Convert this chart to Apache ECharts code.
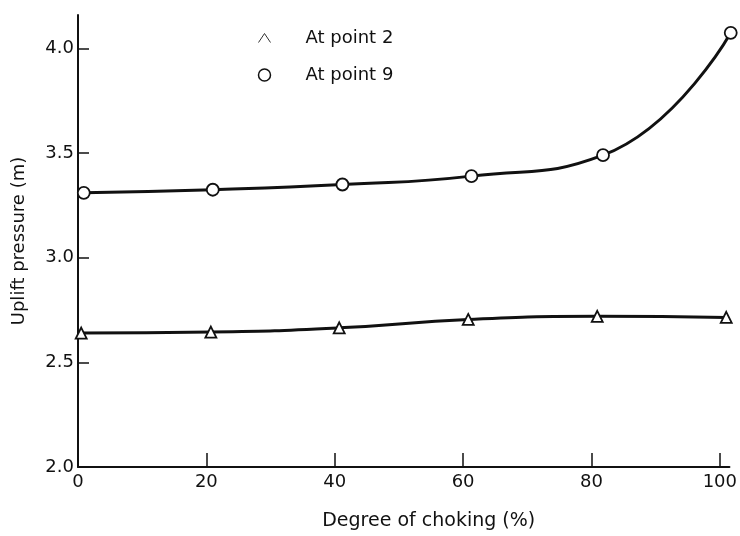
<!DOCTYPE html>
<html>
<head>
<meta charset="utf-8">
<script src="https://cdn.jsdelivr.net/npm/echarts@6/dist/echarts.min.js"></script>
<style>html,body{margin:0;padding:0;background:#fff;}#chart{width:740px;height:536px;}</style>
</head>
<body>
<div id="chart"></div>
<script>
const xTicks = [0, 20, 40, 60, 80, 100];
const yTicks = [2.0, 2.5, 3.0, 3.5, 4.0];
const point2X = [0.5, 20.7, 40.7, 60.8, 80.9, 101];
const point2Y = [2.64, 2.645, 2.665, 2.705, 2.72, 2.715];
const point9X = [0.9, 21, 41.2, 61.3, 81.8, 101.7];
const point9Y = [3.31, 3.325, 3.35, 3.39, 3.49, 4.075];
const seriesNames = ['At point 2', 'At point 9'];

const font = '"DejaVu Sans", sans-serif';
const pairs = (xs, ys) => xs.map((x, i) => [x, ys[i]]);

const chart = echarts.init(document.getElementById('chart'));
chart.setOption({
  backgroundColor: '#ffffff',
  animation: false,
  grid: { left: 78, right: 4, top: 15, bottom: 69, containLabel: false },
  legend: {
    left: 251, top: 24, orient: 'vertical', itemGap: 19,
    itemWidth: 12, itemHeight: 12,
    textStyle: { fontFamily: font, fontSize: 18, color: '#111', padding: [0, 0, 0, 30] },
    data: [
      { name: seriesNames[0], icon: 'path://M0,6 L4,0 L8,6', itemStyle: { color: 'none', borderColor: '#333', borderWidth: 1 } },
      { name: seriesNames[1], icon: 'circle', itemStyle: { color: '#fff', borderColor: '#111', borderWidth: 1.5 } }
    ]
  },
  xAxis: {
    type: 'value', min: 0, max: 101.5,
    name: 'Degree of choking (%)', nameLocation: 'middle', nameGap: 45,
    nameTextStyle: { fontFamily: font, fontSize: 19, color: '#111', padding: [0, 0, 0, 50] },
    axisLine: { show: true, lineStyle: { color: '#111', width: 2 } },
    axisTick: { show: true, inside: true, length: 14, customValues: xTicks, lineStyle: { color: '#111', width: 1.5 } },
    axisLabel: { customValues: xTicks, fontFamily: font, fontSize: 18, color: '#111', margin: 6 },
    splitLine: { show: false }
  },
  yAxis: {
    type: 'value', min: 2.0, max: 4.16,
    name: 'Uplift pressure (m)', nameLocation: 'middle', nameGap: 50, nameRotate: 90,
    nameTextStyle: { fontFamily: font, fontSize: 18, color: '#111' },
    axisLine: { show: true, lineStyle: { color: '#111', width: 2 } },
    axisTick: { show: true, inside: true, length: 11, customValues: yTicks, lineStyle: { color: '#111', width: 1.5 } },
    axisLabel: { customValues: yTicks, fontFamily: font, fontSize: 18, color: '#111', margin: 4,
      formatter: v => v.toFixed(1) },
    splitLine: { show: false }
  },
  series: [
    {
      name: seriesNames[0], type: 'line', data: pairs(point2X, point2Y),
      smooth: 0.5, clip: false,
      symbol: 'triangle', symbolSize: 11,
      lineStyle: { color: '#111', width: 3 },
      itemStyle: { color: '#fff', borderColor: '#111', borderWidth: 1.8 }
    },
    {
      name: seriesNames[1], type: 'line', data: pairs(point9X, point9Y),
      smooth: 0.5, clip: false,
      symbol: 'circle', symbolSize: 12,
      lineStyle: { color: '#111', width: 3 },
      itemStyle: { color: '#fff', borderColor: '#111', borderWidth: 1.8 }
    }
  ]
});
</script>
</body>
</html>
